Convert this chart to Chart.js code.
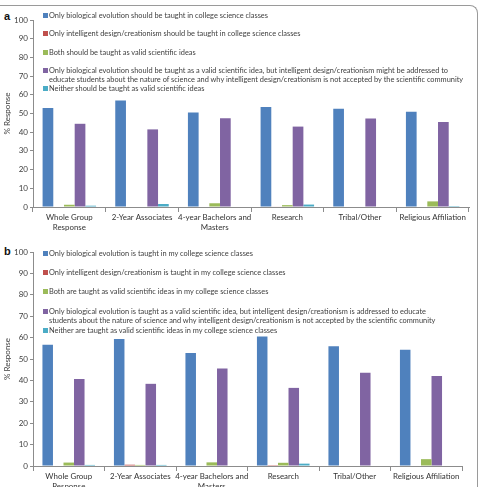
<!DOCTYPE html>
<html>
<head>
<meta charset="utf-8">
<script src="https://cdn.jsdelivr.net/npm/chart.js@4.4.1/dist/chart.umd.min.js"></script>
<style>
    body { margin: 0; background: #fff; }
    #wrap { position: relative; width: 484px; height: 487px; overflow: hidden; font-family: Lato, "Open Sans", sans-serif; }
    #frame { position: absolute; left: -10px; top: 5px; width: 487px; height: 500px; border-top: 1px solid #9a9a9a; border-right: 1px solid #9a9a9a; border-top-right-radius: 8px; }
    canvas { position: absolute; left: 0; }
    .panel { position: absolute; font: bold 11px "Liberation Sans", Arial, sans-serif; color: #111; }
    .legenda { position: absolute; left: 43px; font-size: 7.4px; color: #404040; }
    .item { position: relative; padding-left: 6px; line-height: 9.6px; white-space: nowrap; }
    .item span.q { position: absolute; left: 0; top: 2px; width: 5px; height: 5px; }
</style>
</head>
<body>
<div id="wrap">
    <div id="frame"></div>
    <div class="panel" style="left:4px; top:10px;">a</div>
    <div class="panel" style="left:4px; top:245px;">b</div>
    <canvas id="graficoA" width="484" height="243" style="top:0"></canvas>
    <canvas id="graficoB" width="484" height="244" style="top:243px"></canvas>
    <div class="legenda" id="legendaA" style="top:11px"></div>
    <div class="legenda" id="legendaB" style="top:249px"></div>
</div>
<script>
// categorias (eixo x)
const categorias = [
    ['Whole Group', 'Response'],
    '2-Year Associates',
    ['4-year Bachelors and', 'Masters'],
    'Research',
    'Tribal/Other',
    'Religious Affiliation'
];

const ticksY = [0, 10, 20, 30, 40, 50, 60, 70, 80, 90, 100];
const cores = ['#4F81BD', '#C0504D', '#9BBB59', '#8064A2', '#4BACC6'];

// painel a
const nomesA = [
    'Only biological evolution should be taught in college science classes',
    'Only intelligent design/creationism should be taught in college science classes',
    'Both should be taught as valid scientific ideas',
    ['Only biological evolution should be taught as a valid scientific idea, but intelligent design/creationism might be addressed to',
     'educate students about the nature of science and why intelligent design/creationism is not accepted by the scientific community'],
    'Neither should be taught as valid scientific ideas'
];
const aEvolucao = [53, 57, 50.5, 53.5, 52.5, 51];
const aDesign = [0, 0, 0, 0.3, 0, 0];
const aAmbos = [1.2, 0, 2, 1, 0, 3];
const aEvolucaoValida = [44.5, 41.5, 47.5, 43, 47.3, 45.5];
const aNenhum = [0.7, 1.6, 0, 1.3, 0, 0.5];

// painel b
const nomesB = [
    'Only biological evolution is taught in my college science classes',
    'Only intelligent design/creationism is taught in my college science classes',
    'Both are taught as valid scientific ideas in my college science classes',
    ['Only biological evolution is taught as a valid scientific idea, but intelligent design/creationism is addressed to educate',
     'students about the nature of science and why intelligent design/creationism is not accepted by the scientific community'],
    'Neither are taught as valid scientific ideas in my college science classes'
];
const bEvolucao = [56.7, 59.4, 52.8, 60.5, 56, 54.3];
const bDesign = [0, 0.6, 0, 0.4, 0, 0];
const bAmbos = [1.6, 0.5, 1.7, 1.5, 0, 3.2];
const bEvolucaoValida = [40.6, 38.4, 45.6, 36.5, 43.6, 42.1];
const bNenhum = [0.5, 0.5, 0, 1.1, 0, 0];

function montarGrafico(id, nomes, series, padding, alturaX) {
    const datasets = series.map((valores, i) => ({
        label: nomes[i],
        data: valores,
        backgroundColor: cores[i],
        categoryPercentage: 0.736,
        barPercentage: 1.0
    }));

    return new Chart(document.getElementById(id), {
        type: 'bar',
        data: { labels: categorias, datasets: datasets },
        options: {
            responsive: false,
            animation: false,
            layout: { padding: padding },
            plugins: { legend: { display: false }, tooltip: { enabled: false } },
            scales: {
                x: {
                    grid: { drawOnChartArea: false, tickLength: 5, color: '#8c8c8c' },
                    border: { color: '#8c8c8c' },
                    ticks: { color: '#333', font: { family: 'Lato', size: 7.9 }, maxRotation: 0, autoSkip: false, padding: 1 },
                    afterFit: (scale) => { scale.height = alturaX; }
                },
                y: {
                    min: 0,
                    max: 100,
                    afterBuildTicks: (scale) => { scale.ticks = ticksY.map(v => ({ value: v })); },
                    grid: { drawOnChartArea: false, tickLength: 3, color: '#8c8c8c' },
                    border: { color: '#8c8c8c' },
                    ticks: { color: '#404040', font: { family: 'Lato', size: 8 }, padding: 2 },
                    title: { display: true, text: '% Response', color: '#404040', font: { family: 'Lato', size: 8 }, padding: { top: 3, bottom: 0 } },
                    afterFit: (scale) => { scale.width = 33; }
                }
            }
        }
    });
}

function montarLegenda(id, nomes, passo) {
    const div = document.getElementById(id);
    nomes.forEach((nome, i) => {
        const linhas = Array.isArray(nome) ? nome : [nome];
        const item = document.createElement('div');
        item.className = 'item';
        item.style.height = passo + 'px';
        item.innerHTML = `<span class="q" style="background:${cores[i]}"></span>` + linhas.join('<br>');
        div.appendChild(item);
    });
}

montarGrafico('graficoA', nomesA, [aEvolucao, aDesign, aAmbos, aEvolucaoValida, aNenhum], { top: 20, right: 15, left: 0, bottom: 0 }, 36);
montarGrafico('graficoB', nomesB, [bEvolucao, bDesign, bAmbos, bEvolucaoValida, bNenhum], { top: 9, right: 22, left: 0, bottom: 0 }, 21);
montarLegenda('legendaA', nomesA, 18.3);
montarLegenda('legendaB', nomesB, 19.2);
</script>
</body>
</html>
